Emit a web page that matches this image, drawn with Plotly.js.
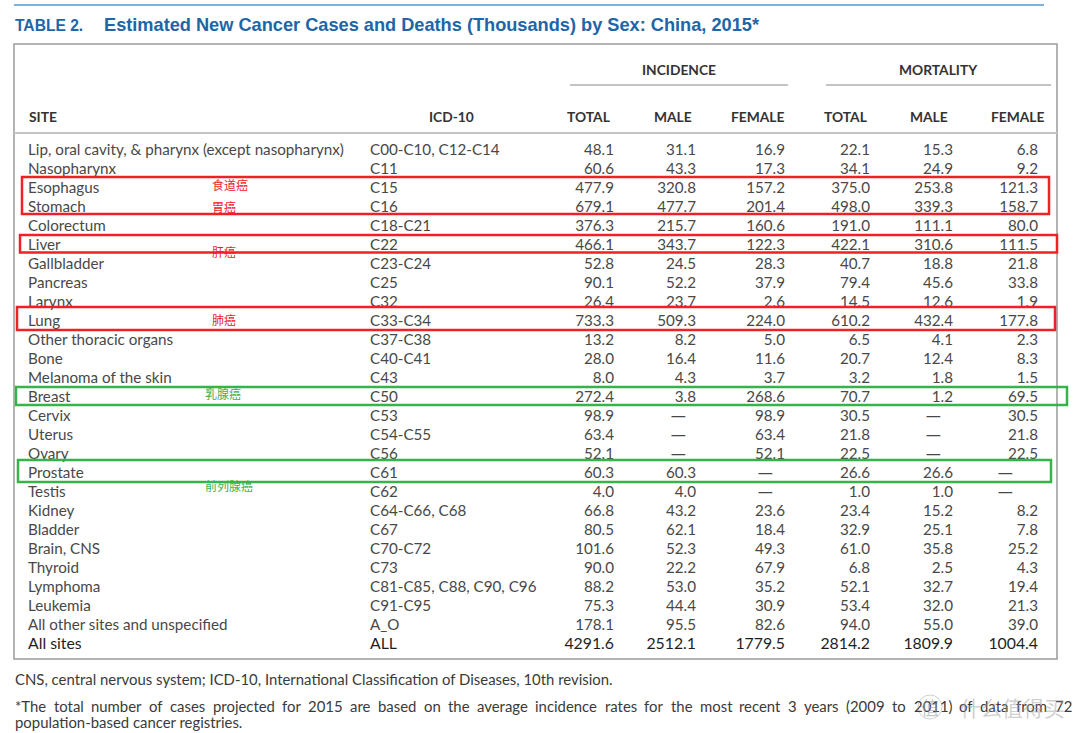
<!DOCTYPE html>
<html><head><meta charset="utf-8">
<script src="https://cdn.plot.ly/plotly-3.0.1.min.js"></script>
<style>html,body{margin:0;padding:0;background:#fff}#chart{width:1080px;height:733px}</style>
</head><body><div id="chart"></div>
<script>
// ---------------- DATA ----------------
const sites = ["Lip, oral cavity, & pharynx (except nasopharynx)","Nasopharynx","Esophagus","Stomach","Colorectum","Liver","Gallbladder","Pancreas","Larynx","Lung","Other thoracic organs","Bone","Melanoma of the skin","Breast","Cervix","Uterus","Ovary","Prostate","Testis","Kidney","Bladder","Brain, CNS","Thyroid","Lymphoma","Leukemia","All other sites and unspecified","All sites"];
const icd10 = ["C00-C10, C12-C14","C11","C15","C16","C18-C21","C22","C23-C24","C25","C32","C33-C34","C37-C38","C40-C41","C43","C50","C53","C54-C55","C56","C61","C62","C64-C66, C68","C67","C70-C72","C73","C81-C85, C88, C90, C96","C91-C95","A_O","ALL"];
const incTotal  = [48.1,60.6,477.9,679.1,376.3,466.1,52.8,90.1,26.4,733.3,13.2,28.0,8.0,272.4,98.9,63.4,52.1,60.3,4.0,66.8,80.5,101.6,90.0,88.2,75.3,178.1,4291.6];
const incMale   = [31.1,43.3,320.8,477.7,215.7,343.7,24.5,52.2,23.7,509.3,8.2,16.4,4.3,3.8,null,null,null,60.3,4.0,43.2,62.1,52.3,22.2,53.0,44.4,95.5,2512.1];
const incFemale = [16.9,17.3,157.2,201.4,160.6,122.3,28.3,37.9,2.6,224.0,5.0,11.6,3.7,268.6,98.9,63.4,52.1,null,null,23.6,18.4,49.3,67.9,35.2,30.9,82.6,1779.5];
const morTotal  = [22.1,34.1,375.0,498.0,191.0,422.1,40.7,79.4,14.5,610.2,6.5,20.7,3.2,70.7,30.5,21.8,22.5,26.6,1.0,23.4,32.9,61.0,6.8,52.1,53.4,94.0,2814.2];
const morMale   = [15.3,24.9,253.8,339.3,111.1,310.6,18.8,45.6,12.6,432.4,4.1,12.4,1.8,1.2,null,null,null,26.6,1.0,15.2,25.1,35.8,2.5,32.7,32.0,55.0,1809.9];
const morFemale = [6.8,9.2,121.3,158.7,80.0,111.5,21.8,33.8,1.9,177.8,2.3,8.3,1.5,69.5,30.5,21.8,22.5,null,null,8.2,7.8,25.2,4.3,19.4,21.3,39.0,1004.4];
const groupHeaders = ["INCIDENCE","MORTALITY"];
const colHeaders = ["TOTAL","MALE","FEMALE","TOTAL","MALE","FEMALE"];
const titleLabel = "TABLE 2.";
const titleText = "Estimated New Cancer Cases and Deaths (Thousands) by Sex: China, 2015*";
const note1 = "CNS, central nervous system; ICD-10, International Classification of Diseases, 10th revision.";
const note2a = "*The total number of cases projected for 2015 are based on the average incidence rates for the most recent 3 years (2009 to 2011) of data from 72";
const note2b = "population-based cancer registries.";

// ---------------- LAYOUT CONSTANTS ----------------
const W = 1080, H = 733;
const ROW0 = 151.0, STEP = 19.02;           // pixel centre of first row, row pitch
const BODY = "Lato, 'DejaVu Sans Condensed', sans-serif";
const DASHF = "'DejaVu Sans', sans-serif";
const TXT = '#484848', DARK = '#1e1e1e', HEAD = '#333333', BLUE = '#2066a6';
const py = p => 1 - p / H;                  // pixel -> paper y
const rows = sites.map((_, i) => i);
const last = sites.length - 1;
const fs = rows.map(i => i === last ? 15.8 : 15.2);
const fc = rows.map(i => i === last ? DARK : TXT);
const fmt = v => v == null ? '\u2014' : v.toFixed(1);

const numCols = [
  {vals: incTotal,  x: 614, dash: 10},
  {vals: incMale,   x: 696, dash: 10},
  {vals: incFemale, x: 785, dash: 12},
  {vals: morTotal,  x: 870, dash: 10},
  {vals: morMale,   x: 953, dash: 12},
  {vals: morFemale, x: 1038, dash: 25}
];

const traces = [];
traces.push({type:'scatter', mode:'text', x: rows.map(() => 28), y: rows, text: sites,
  textposition:'middle right', textfont:{family:BODY, size:fs, color:fc}, hoverinfo:'skip', cliponaxis:false, showlegend:false});
traces.push({type:'scatter', mode:'text', x: rows.map(() => 370), y: rows, text: icd10,
  textposition:'middle right', textfont:{family:BODY, size:fs, color:fc}, hoverinfo:'skip', cliponaxis:false, showlegend:false});
numCols.forEach(c => {
  traces.push({type:'scatter', mode:'text',
    x: c.vals.map(v => v == null ? c.x - c.dash : c.x), y: rows, text: c.vals.map(fmt),
    textposition:'middle left',
    textfont:{family: c.vals.map(v => v == null ? DASHF : BODY), size:fs, color:fc},
    hoverinfo:'skip', cliponaxis:false, showlegend:false});
});

// ---------------- ANNOTATIONS ----------------
const ann = [];
function txt(text, x, yBase, size, opts) {
  opts = opts || {};
  ann.push(Object.assign({xref:'x', yref:'paper', x:x, y:py(yBase - 0.33*size), text:text, showarrow:false,
    xanchor:'left', yanchor:'middle', borderpad:0}, opts,
    {font:Object.assign({family:BODY, size:size, color:HEAD}, opts.font||{})}));
}
const TFONT = "'Liberation Sans', Arial, sans-serif";
// title
txt(titleLabel, 14, 30.7, 15.6, {font:{family:TFONT, weight:700, color:BLUE}});
txt(titleText, 103, 30.7, 18.2, {font:{family:TFONT, weight:700, color:BLUE}});
// headers
const HS = 13.8;
txt(groupHeaders[0], 679, 74, HS, {xanchor:'center', font:{weight:700}});
txt(groupHeaders[1], 938, 74, HS, {xanchor:'center', font:{weight:700}});
txt('SITE', 28, 121.5, HS, {font:{weight:700}});
txt('ICD-10', 451, 121.5, HS, {xanchor:'center', font:{weight:700}});
const headRight = [611, 693, 786, 868, 949, 1046];
colHeaders.forEach((h, i) => txt(h, headRight[i], 121.5, HS, {xanchor:'right', font:{weight:700}}));
// footnotes
const NS = 14.9, NC = '#3a3a3a';
txt(note1, 14, 683.5, NS, {font:{color:NC}});
txt(note2b, 14, 726.5, NS, {font:{color:NC}});
// justified first line of note 2
(function(){
  const words = note2a.split(' ');
  const ctx = document.createElement('canvas').getContext('2d');
  ctx.font = NS + "px Lato, 'DejaVu Sans Condensed', sans-serif";
  const widths = words.map(w => ctx.measureText(w).width);
  const sum = widths.reduce((a, b) => a + b, 0);
  const left = 14, right = 1071;
  const gap = (right - left - sum) / (words.length - 1);
  let x = left;
  words.forEach((w, i) => { txt(w, x, 710.5, NS, {font:{color:NC}}); x += widths[i] + gap; });
})();
// hand-written Chinese notes
const CJK = "'Noto Sans CJK SC', sans-serif";
const RED = '#ee2128', GREEN = '#36b34a';
[['食道癌',211,184,RED],['胃癌',211,206,RED],['肝癌',211,251,RED],['肺癌',211,320,RED],
 ['乳腺癌',204,393,GREEN],['前列腺癌',204,485,GREEN]].forEach(a => {
  ann.push({xref:'x', yref:'paper', x:a[1], y:py(a[2]), text:a[0], showarrow:false, xanchor:'left', yanchor:'middle',
    borderpad:0, font:{family:CJK, size:12, color:a[3]}});
});
// watermark
ann.push({xref:'x', yref:'paper', x:930, y:py(707), text:'值', showarrow:false, xanchor:'center', yanchor:'middle',
  font:{family:CJK, size:18, color:'rgba(150,150,150,0.55)'}});
ann.push({xref:'x', yref:'paper', x:958, y:py(707), text:'什么值得买', showarrow:false, xanchor:'left', yanchor:'middle',
  font:{family:CJK, size:21, color:'rgba(160,160,160,0.5)'}});

// ---------------- SHAPES ----------------
const shapes = [];
function line(x0, y0, x1, y1, color, width) {
  shapes.push({type:'line', xref:'x', yref:'paper', x0:x0, x1:x1, y0:py(y0), y1:py(y1), line:{color:color, width:width}});
}
function rect(x0, y0, x1, y1, color, width) {
  shapes.push({type:'rect', xref:'x', yref:'paper', x0:x0, x1:x1, y0:py(y0), y1:py(y1), line:{color:color, width:width}, fillcolor:'rgba(0,0,0,0)'});
}
line(14, 5, 1044, 5, '#7eb2de', 2);
rect(14, 44, 1057, 659, '#9a9a9a', 1.5);
line(570, 85, 788, 85, '#c4c4c4', 2);
line(826, 85, 1051, 85, '#c4c4c4', 2);
line(14, 133, 1057, 133, '#c4c4c4', 2);
rect(22, 177, 1049, 214, RED, 2.5);
rect(20, 235, 1057, 252.5, RED, 2.5);
rect(17, 307, 1055, 330, RED, 2.5);
rect(16, 387, 1067, 405, GREEN, 2.5);
rect(18, 460, 1051, 482, GREEN, 2.5);
shapes.push({type:'circle', xref:'x', yref:'paper', x0:918, x1:942, y0:py(719), y1:py(695), line:{color:'rgba(160,160,160,0.5)', width:1}});

const layout = {
  width: W, height: H, margin:{l:0, r:0, t:0, b:0}, paper_bgcolor:'#fff', plot_bgcolor:'#fff',
  showlegend:false,
  xaxis:{range:[0, W], visible:false, fixedrange:true},
  yaxis:{range:[(H - ROW0) / STEP, (0 - ROW0) / STEP], visible:false, fixedrange:true},
  annotations: ann, shapes: shapes
};
Plotly.newPlot('chart', traces, layout, {staticPlot:true, displayModeBar:false});
</script></body></html>
